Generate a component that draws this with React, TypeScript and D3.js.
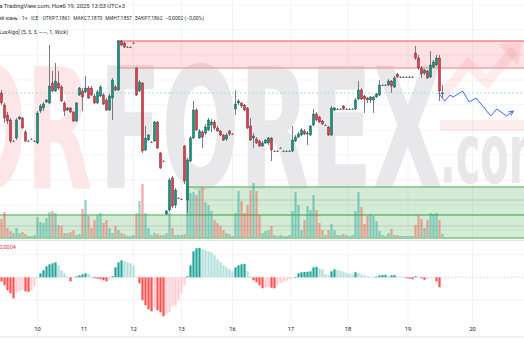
import React from 'react';
import * as d3 from 'd3';

const W = 524;
const H = 350;

// OHLC candles, 1h: [open, high, low, close]
const candles: [number, number, number, number][] = [
  [7.1862, 7.1865, 7.1850, 7.1852], [7.1850, 7.1852, 7.1832, 7.1837], [7.1840, 7.1843, 7.1831, 7.1834], [7.1835, 7.1837, 7.1812, 7.1814], [7.1814, 7.1815, 7.1813, 7.1814],
  [7.1817, 7.1837, 7.1815, 7.1835], [7.1836, 7.1839, 7.1835, 7.1838], [7.1837, 7.1838, 7.1826, 7.1827], [7.1823, 7.1825, 7.1813, 7.1814], [7.1814, 7.1815, 7.1813, 7.1814],
  [7.1816, 7.1817, 7.1815, 7.1816], [7.1814, 7.1815, 7.1814, 7.1814], [7.1812, 7.1844, 7.1811, 7.1842], [7.1844, 7.1851, 7.1842, 7.1849], [7.1847, 7.1853, 7.1844, 7.1851],
  [7.1853, 7.1856, 7.1852, 7.1855], [7.1852, 7.1910, 7.1851, 7.1869], [7.1872, 7.1884, 7.1863, 7.1864], [7.1864, 7.1892, 7.1863, 7.1874], [7.1872, 7.1884, 7.1865, 7.1867],
  [7.1868, 7.1870, 7.1853, 7.1854], [7.1852, 7.1854, 7.1839, 7.1844], [7.1845, 7.1848, 7.1844, 7.1847], [7.1847, 7.1848, 7.1842, 7.1843], [7.1843, 7.1844, 7.1833, 7.1834],
  [7.1834, 7.1853, 7.1833, 7.1852], [7.1860, 7.1868, 7.1859, 7.1867], [7.1864, 7.1867, 7.1844, 7.1858], [7.1863, 7.1879, 7.1862, 7.1867], [7.1867, 7.1869, 7.1856, 7.1857],
  [7.1867, 7.1869, 7.1859, 7.1860], [7.1859, 7.1861, 7.1851, 7.1852], [7.1852, 7.1865, 7.1851, 7.1863], [7.1859, 7.1870, 7.1858, 7.1868], [7.1860, 7.1862, 7.1850, 7.1851],
  [7.1855, 7.1857, 7.1844, 7.1845], [7.1845, 7.1861, 7.1844, 7.1859], [7.1857, 7.1877, 7.1835, 7.1875], [7.1868, 7.1870, 7.1864, 7.1865], [7.1865, 7.1915, 7.1864, 7.1914],
  [7.1914, 7.1915, 7.1909, 7.1910], [7.1912, 7.1913, 7.1907, 7.1908], [7.1908, 7.1909, 7.1908, 7.1908], [7.1908, 7.1909, 7.1908, 7.1908], [7.1912, 7.1913, 7.1912, 7.1912],
  [7.1887, 7.1888, 7.1859, 7.1860], [7.1864, 7.1875, 7.1863, 7.1873], [7.1872, 7.1873, 7.1802, 7.1804], [7.1805, 7.1829, 7.1804, 7.1817], [7.1815, 7.1821, 7.1814, 7.1820],
  [7.1813, 7.1814, 7.1813, 7.1813], [7.1814, 7.1834, 7.1813, 7.1833], [7.1833, 7.1834, 7.1806, 7.1807], [7.1802, 7.1803, 7.1786, 7.1787], [7.1794, 7.1795, 7.1794, 7.1794],
  [7.1741, 7.1745, 7.1740, 7.1744], [7.1745, 7.1777, 7.1743, 7.1775], [7.1777, 7.1779, 7.1747, 7.1749], [7.1750, 7.1767, 7.1747, 7.1765], [7.1757, 7.1758, 7.1757, 7.1757],
  [7.1756, 7.1757, 7.1756, 7.1756], [7.1809, 7.1810, 7.1771, 7.1774], [7.1755, 7.1797, 7.1742, 7.1795], [7.1794, 7.1819, 7.1793, 7.1817], [7.1817, 7.1854, 7.1816, 7.1845],
  [7.1845, 7.1847, 7.1824, 7.1825], [7.1817, 7.1826, 7.1816, 7.1824], [7.1823, 7.1825, 7.1807, 7.1818], [7.1822, 7.1831, 7.1820, 7.1828], [7.1825, 7.1837, 7.1824, 7.1835],
  [7.1830, 7.1836, 7.1823, 7.1833], [7.1833, 7.1835, 7.1825, 7.1827], [7.1827, 7.1829, 7.1823, 7.1824], [7.1824, 7.1825, 7.1819, 7.1820], [7.1820, 7.1821, 7.1814, 7.1815],
  [7.1816, 7.1822, 7.1814, 7.1820], [7.1824, 7.1825, 7.1819, 7.1821], [7.1821, 7.1822, 7.1821, 7.1821], [7.1846, 7.1865, 7.1840, 7.1851], [7.1852, 7.1856, 7.1850, 7.1854],
  [7.1852, 7.1853, 7.1847, 7.1849], [7.1850, 7.1851, 7.1844, 7.1845], [7.1847, 7.1848, 7.1826, 7.1827], [7.1829, 7.1837, 7.1814, 7.1815], [7.1817, 7.1822, 7.1807, 7.1819],
  [7.1816, 7.1818, 7.1811, 7.1812], [7.1814, 7.1815, 7.1808, 7.1809], [7.1809, 7.1814, 7.1808, 7.1812], [7.1812, 7.1816, 7.1811, 7.1815], [7.1812, 7.1818, 7.1810, 7.1817],
  [7.1817, 7.1818, 7.1794, 7.1805], [7.1804, 7.1805, 7.1804, 7.1804], [7.1804, 7.1805, 7.1804, 7.1804], [7.1807, 7.1808, 7.1807, 7.1807], [7.1804, 7.1805, 7.1804, 7.1804],
  [7.1804, 7.1805, 7.1804, 7.1804], [7.1804, 7.1805, 7.1804, 7.1804], [7.1804, 7.1829, 7.1803, 7.1815], [7.1814, 7.1820, 7.1813, 7.1818], [7.1818, 7.1823, 7.1817, 7.1821],
  [7.1820, 7.1827, 7.1819, 7.1825], [7.1824, 7.1826, 7.1820, 7.1821], [7.1821, 7.1824, 7.1810, 7.1822], [7.1820, 7.1830, 7.1819, 7.1829], [7.1830, 7.1846, 7.1829, 7.1841],
  [7.1841, 7.1843, 7.1834, 7.1835], [7.1838, 7.1839, 7.1832, 7.1833], [7.1834, 7.1835, 7.1830, 7.1831], [7.1830, 7.1831, 7.1830, 7.1830], [7.1828, 7.1829, 7.1819, 7.1820],
  [7.1820, 7.1849, 7.1819, 7.1847], [7.1845, 7.1848, 7.1844, 7.1847], [7.1846, 7.1847, 7.1846, 7.1846], [7.1846, 7.1847, 7.1846, 7.1846], [7.1849, 7.1850, 7.1845, 7.1846],
  [7.1846, 7.1847, 7.1846, 7.1846], [7.1846, 7.1847, 7.1846, 7.1846], [7.1846, 7.1847, 7.1846, 7.1846], [7.1846, 7.1857, 7.1845, 7.1855], [7.1856, 7.1874, 7.1855, 7.1865],
  [7.1865, 7.1867, 7.1855, 7.1856], [7.1859, 7.1860, 7.1842, 7.1856], [7.1857, 7.1858, 7.1852, 7.1855], [7.1855, 7.1859, 7.1852, 7.1858], [7.1855, 7.1859, 7.1842, 7.1858],
  [7.1858, 7.1862, 7.1857, 7.1861], [7.1860, 7.1875, 7.1859, 7.1870], [7.1870, 7.1871, 7.1870, 7.1870], [7.1870, 7.1871, 7.1870, 7.1870], [7.1870, 7.1876, 7.1869, 7.1874],
  [7.1874, 7.1875, 7.1862, 7.1869], [7.1868, 7.1879, 7.1867, 7.1877], [7.1881, 7.1882, 7.1877, 7.1878], [7.1878, 7.1879, 7.1878, 7.1878], [7.1878, 7.1879, 7.1878, 7.1878],
  [7.1878, 7.1879, 7.1878, 7.1878], [7.1878, 7.1879, 7.1878, 7.1878], [7.1878, 7.1879, 7.1878, 7.1878], [7.1902, 7.1909, 7.1895, 7.1897], [7.1897, 7.1900, 7.1885, 7.1887],
  [7.1887, 7.1889, 7.1877, 7.1881], [7.1882, 7.1886, 7.1880, 7.1885], [7.1884, 7.1885, 7.1876, 7.1877], [7.1878, 7.1904, 7.1877, 7.1890], [7.1888, 7.1895, 7.1887, 7.1893],
  [7.1890, 7.1900, 7.1889, 7.1897], [7.1897, 7.1900, 7.1854, 7.1864], [7.1861, 7.1870, 7.1857, 7.1862],
];

const volumes = [
  1800, 2500, 900, 600, 400, 900, 400, 500, 300, 100,
  100, 200, 2000, 1500, 1400, 1900, 2500, 2600, 2400, 1200,
  1100, 400, 400, 500, 700, 200, 300, 2800, 3700, 2100,
  900, 1700, 2200, 2400, 1400, 1700, 900, 400, 1100, 700,
  400, 300, 100, 100, 200, 2400, 3600, 5300, 2400, 900,
  200, 400, 300, 200, 200, 400, 2400, 900, 200, 200,
  200, 300, 5000, 4400, 4500, 4200, 4700, 5000, 3500, 3200,
  2600, 1700, 1400, 1100, 700, 400, 300, 100, 2400, 4600,
  3600, 2400, 3200, 4700, 5400, 4600, 2200, 400, 600, 700,
  1100, 200, 100, 200, 100, 100, 200, 2600, 4500, 3200,
  700, 1700, 3100, 2700, 4200, 2700, 1400, 700, 200, 700,
  1300, 700, 200, 200, 300, 200, 100, 200, 2600, 4500,
  3000, 1300, 2100, 2300, 2100, 1600, 600, 200, 100, 400,
  800, 200, 200, 100, 100, 100, 100, 100, 1200, 2200,
  1800, 900, 1700, 2400, 2300, 2400, 1700, 300,
];

const histogram = [
  -0.00016, -0.00032, -0.00052, -0.00064, -0.00084, -0.00064, -0.00056, -0.00052, -0.00056, -0.00058,
  -0.00052, -0.00036, -0.00004, 0.00016, 0.00028, 0.00044, 0.00052, 0.00056, 0.00060, 0.00048,
  0.00028, 0.00016, 0.00004, -0.00016, -0.00004, 0.00004, 0.00008, 0.00012, 0.00016, 0.00014,
  0.00004, -0.00004, -0.00006, -0.00008, -0.00012, -0.00016, -0.00008, 0.00004, 0.00040, 0.00060,
  0.00068, 0.00064, 0.00060, 0.00056, 0.00048, 0.00004, -0.00024, -0.00092, -0.00112, -0.00128,
  -0.00136, -0.00120, -0.00132, -0.00140, -0.00156, -0.00148, -0.00140, -0.00116, -0.00112, -0.00092,
  -0.00064, -0.00032, 0.00004, 0.00048, 0.00104, 0.00116, 0.00118, 0.00112, 0.00108, 0.00104,
  0.00100, 0.00088, 0.00072, 0.00060, 0.00048, 0.00040, 0.00032, 0.00024, 0.00040, 0.00048,
  0.00052, 0.00054, 0.00024, 0.00004, -0.00012, -0.00020, -0.00032, -0.00044, -0.00042, -0.00040,
  -0.00042, -0.00044, -0.00032, -0.00024, -0.00018, -0.00014, -0.00008, -0.00004, 0.00001, 0.00016,
  0.00020, 0.00021, 0.00022, 0.00024, 0.00040, 0.00042, 0.00036, 0.00032, 0.00012, 0.00008,
  0.00024, 0.00032, 0.00030, 0.00026, 0.00022, 0.00018, 0.00014, 0.00012, 0.00020, 0.00018,
  0.00012, 0.00008, 0.00004, 0.00002, 0.00001, 0.00003, 0.00008, 0.00009, 0.00010, 0.00006,
  0.00008, 0.00009, 0.00004, 0.00002, 0.00001, -0.00004, -0.00005, -0.00008, 0.00004, 0.00002,
  -0.00004, -0.00010, -0.00008, -0.00002, -0.00001, -0.00016, -0.00040,
];

// day separators (bar index where each day label sits)
const dayLabels = ['10', '11', '12', '13', '16', '17', '18', '19', '20'];
const dayIndex = [12, 27.5, 44, 60, 77, 96.5, 115.5, 135.5, 157];

// projected path [bar index, price]
const projection: [number, number][] = [
  [145.6, 7.1862], [147.8, 7.1854], [149.5, 7.1860], [150.6, 7.1858], [153.7, 7.1864], [155.9, 7.1853],
  [158.2, 7.1857], [163.1, 7.1839], [165.1, 7.1846], [168.4, 7.1839], [170.6, 7.1844],
];

// zones
const supplyZone = { start: 39, bottom: 7.1887, top: 7.1914 };
const demandUpper = { start: 62, bottom: 7.1740, mid: 7.1755, top: 7.1768 };
const demandLower = { start: 0, bottom: 7.1717, mid: 7.1729, top: 7.1740 };
const lastPrice = 7.1862;

const headerLine1 = 'Опубликовано на TradingView.com, Нояб 19, 2025 13:03 UTC+3';
const headerSymbol = 'Китайский юань · 1ч · ICE';
const ohlcLabels = ['ОТКР', 'МАКС', 'МИН', 'ЗАКР'];
const ohlcValues = ['7,1861', '7,1870', '7,1857', '7,1862'];
const changeText = '−0,0002 (−0,00%)';
const indicatorLine = '[LuxAlgo] (5, 3, 3, ——, 1, Wick)';
const histLabel = '−0,0004';

export default function App() {
  const x = d3.scaleLinear().domain([0, 1]).range([1.5, 4.5]);
  const y = d3.scaleLinear().domain([7.1715, 7.1955]).range([240, 0]);
  const yv = d3.scaleLinear().domain([0, 6000]).range([237, 177]);
  const yh = d3.scaleLinear().domain([-0.0016, 0.0016]).range([317.3, 237.3]);
  const bw = 2.2;
  const upC = '#089981';
  const dnC = '#f23645';
  const font = 'Roboto, "Noto Sans", sans-serif';
  const priceGrid = d3.range(7.1725, 7.1951, 0.0025);
  const projLine = d3.line<[number, number]>().x((d) => x(d[0])).y((d) => y(d[1]));

  const histColor = (v: number, i: number) => {
    const prev = i > 0 ? histogram[i - 1] : 0;
    if (v >= 0) return v >= prev ? '#26a69a' : '#b2dfdb';
    return v < prev ? '#ff5252' : '#ffcdd2';
  };

  return (
    <svg width={W} height={H} style={{ position: 'fixed', left: 0, top: 0, background: '#fff' }}>
      <defs>
        <marker id="arrowHead" viewBox="0 0 8 8" refX="7" refY="4" markerWidth="6" markerHeight="6" orient="auto">
          <path d="M1,1 L7,4 L1,7" fill="none" stroke="#3d6bff" strokeWidth={1.2} />
        </marker>
      </defs>
      <rect x={0} y={0} width={W} height={H} fill="#fff" />

      {/* grid */}
      {priceGrid.map((p) => (
        <line key={'pg' + p} x1={0} x2={W} y1={y(p)} y2={y(p)} stroke="#f0f3fa" strokeWidth={1} />
      ))}
      {[0.0009, -0.0009].map((v) => (
        <line key={'hg' + v} x1={0} x2={W} y1={yh(v)} y2={yh(v)} stroke="#f0f3fa" strokeWidth={1} />
      ))}
      {dayIndex.map((d, i) => (
        <line key={'vg' + i} x1={x(d)} x2={x(d)} y1={0} y2={337} stroke="#f0f3fa" strokeWidth={1} />
      ))}

      {/* watermark */}
      <g fontFamily='"DejaVu Sans", sans-serif' fontWeight="bold">
        <text x={92} y={188} textAnchor="end" fontSize={168} textLength={138} lengthAdjust="spacingAndGlyphs" fill="#fde6e7">OR</text>
        <text x={99} y={188} fontSize={168} textLength={344} lengthAdjust="spacingAndGlyphs" fill="#e8e8ea">FOREX</text>
        <text x={440} y={183} fontSize={84} textLength={112} lengthAdjust="spacingAndGlyphs" fill="#e8e8ea">.com</text>
      </g>
      <polyline points="442,96 468,64 487,82 514,50" fill="none" stroke="rgba(242,54,69,0.10)" strokeWidth={10} strokeLinejoin="miter" />
      <path d="M498,44 L522,42 L518,66 Z" fill="rgba(242,54,69,0.10)" />
      <rect x={440} y={120} width={84} height={11} fill="rgba(242,54,69,0.09)" />

      {/* zones */}
      <rect x={x(supplyZone.start) - 1.5} y={y(supplyZone.top)} width={W - x(supplyZone.start) + 1.5} height={y(supplyZone.bottom) - y(supplyZone.top)} fill="rgba(242,54,69,0.15)" />
      <line x1={x(supplyZone.start) - 1.5} x2={W} y1={y(supplyZone.top)} y2={y(supplyZone.top)} stroke="#e4535d" strokeWidth={1} />
      <line x1={x(supplyZone.start) - 1.5} x2={W} y1={y(supplyZone.bottom)} y2={y(supplyZone.bottom)} stroke="#f4a2a8" strokeWidth={1.6} />

      {[demandLower, demandUpper].map((z, k) => (
        <g key={'dz' + k}>
          <rect x={x(z.start) - 1.5} y={y(z.top)} width={W - x(z.start) + 1.5} height={y(z.bottom) - y(z.top)} fill="rgba(76,175,80,0.24)" />
          <line x1={x(z.start) - 1.5} x2={W} y1={y(z.mid)} y2={y(z.mid)} stroke="#b3cbb4" strokeWidth={0.9} />
          <line x1={x(z.start) - 1.5} x2={W} y1={y(z.top)} y2={y(z.top)} stroke="#7dc381" strokeWidth={1.6} />
          <line x1={x(z.start) - 1.5} x2={W} y1={y(z.bottom)} y2={y(z.bottom)} stroke="#7dc381" strokeWidth={1.6} />
        </g>
      ))}

      {/* volume */}
      {volumes.map((v, i) => {
        const c = candles[i];
        const up = c ? c[3] >= c[0] : true;
        return (
          <rect key={'v' + i} x={x(i) - bw / 2} y={yv(v)} width={bw} height={yv(0) - yv(v)}
            fill={up ? 'rgba(38,166,154,0.5)' : 'rgba(239,83,80,0.5)'} />
        );
      })}

      {/* last price line */}
      <line x1={0} x2={W} y1={y(lastPrice)} y2={y(lastPrice)} stroke="#9fd8c8" strokeWidth={0.8} strokeDasharray="2 2" />

      {/* candles */}
      {candles.map((c, i) => {
        const [o, h, l, cl] = c;
        const up = cl >= o;
        const col = up ? upC : dnC;
        const top = y(Math.max(o, cl));
        const hgt = Math.max(1, Math.abs(y(o) - y(cl)));
        const doji = o === cl;
        return (
          <g key={'c' + i}>
            <line x1={x(i)} x2={x(i)} y1={y(h)} y2={y(l)} stroke="#5a5e66" strokeWidth={0.8} />
            <rect x={x(i) - bw / 2} y={top} width={bw} height={hgt} fill={doji ? '#6b6f77' : col}
              stroke={doji ? 'none' : '#2a2e35'} strokeWidth={0.35} />
          </g>
        );
      })}

      {/* projection */}
      <path d={projLine(projection) || ''} fill="none" stroke="#3d6bff" strokeWidth={1} markerEnd="url(#arrowHead)" />

      {/* pane separator */}
      <line x1={0} x2={W} y1={240.5} y2={240.5} stroke="#e0e3eb" strokeWidth={1} />

      {/* histogram */}
      <line x1={0} x2={W} y1={yh(0)} y2={yh(0)} stroke="#c9ccd3" strokeWidth={0.8} strokeDasharray="1.5 2" />
      {histogram.map((v, i) => (
        <rect key={'h' + i} x={x(i) - bw / 2} y={Math.min(yh(v), yh(0))} width={bw}
          height={Math.max(0.6, Math.abs(yh(v) - yh(0)))} fill={histColor(v, i)} />
      ))}
      <text x={-4} y={248.5} fontFamily={font} fontSize={5.6} fill="#f23645">{histLabel}</text>

      {/* x axis */}
      <line x1={0} x2={W} y1={337} y2={337} stroke="#e0e3eb" strokeWidth={1} />
      {dayLabels.map((d, i) => (
        <text key={'dl' + i} x={x(dayIndex[i])} y={331} textAnchor="middle" fontFamily={font} fontSize={5.8} fill="#131722">{d}</text>
      ))}

      {/* header */}
      <g fontFamily={font} fill="#2a2e39">
        <text x={125} y={8} textAnchor="end" fontSize={5.9}>{headerLine1}</text>
        <text x={204} y={19.5} textAnchor="end" fontSize={5.0}>
          <tspan>{headerSymbol}</tspan>
          {ohlcLabels.map((lab, i) => (
            <tspan key={'ohlc' + i} dx={i === 0 ? 4 : 3}>{lab + ohlcValues[i]}</tspan>
          ))}
          <tspan dx={3}>{changeText}</tspan>
        </text>
        <text x={68} y={34} textAnchor="end" fontSize={5.3}>{indicatorLine}</text>
      </g>
    </svg>
  );
}
